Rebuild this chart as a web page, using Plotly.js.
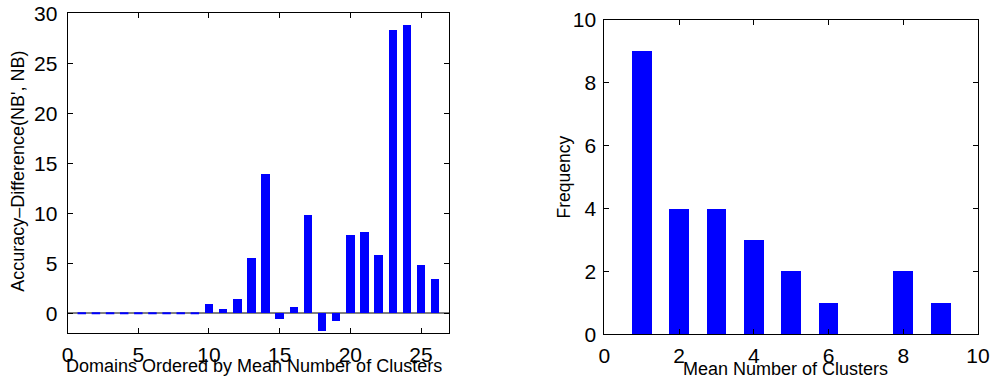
<!DOCTYPE html>
<html>
<head>
<meta charset="utf-8">
<script src="https://cdn.plot.ly/plotly-3.0.1.min.js"></script>
<style>html,body{margin:0;padding:0;background:#fff;}#chart{width:992px;height:383px;}</style>
</head>
<body>
<div id="chart"></div>
<script>
// Left panel: accuracy difference per domain (ordered by mean number of clusters)
const domainIndex = [1,2,3,4,5,6,7,8,9,10,11,12,13,14,15,16,17,18,19,20,21,22,23,24,25,26];
const accuracyDiff = [0,0,0,0,0,0,0,0,0,0.95,0.45,1.45,5.55,13.95,-0.6,0.65,9.85,-1.8,-0.8,7.85,8.15,5.85,28.35,28.85,4.85,3.45];
const leftXTicks = [0,5,10,15,20,25];
const leftYTicks = [0,5,10,15,20,25,30];

// Right panel: histogram of mean number of clusters
const clusterBins = [1,2,3,4,5,6,7,8,9];
const frequency = [9,4,4,3,2,1,0,2,1];
const rightXTicks = [0,2,4,6,8,10];
const rightYTicks = [0,2,4,6,8,10];

const leftBarWidth = 0.6;
const rightBarWidth = 0.53;
const blue = '#0000ff';
const FONT = 'Arial, "Liberation Sans", Helvetica, sans-serif';

// zero-height bars are drawn as flat blue segments (as MATLAB does)
const zx = [], zy = [];
domainIndex.forEach((d, i) => {
  if (accuracyDiff[i] === 0) {
    zx.push(d - leftBarWidth / 2, d + leftBarWidth / 2, null);
    zy.push(accuracyDiff[i], accuracyDiff[i], null);
  }
});

const traces = [
  {type: 'bar', x: domainIndex, y: accuracyDiff, width: leftBarWidth,
   marker: {color: blue, line: {width: 0}}, xaxis: 'x', yaxis: 'y', hoverinfo: 'x+y'},
  {type: 'scatter', mode: 'lines', x: zx, y: zy, line: {color: blue, width: 2},
   xaxis: 'x', yaxis: 'y', hoverinfo: 'skip'},
  {type: 'bar', x: clusterBins, y: frequency, width: rightBarWidth,
   marker: {color: blue, line: {width: 0}}, xaxis: 'x2', yaxis: 'y2', hoverinfo: 'x+y'}
];

const axisCommon = {
  showline: true, linecolor: '#000', linewidth: 1, mirror: 'ticks',
  ticks: 'inside', ticklen: 5, tickcolor: '#000', tickwidth: 1,
  showgrid: false, zeroline: false, fixedrange: true,
  tickfont: {family: FONT, size: 21, color: '#000'}, tickmode: 'array'
};

const layout = {
  width: 992, height: 383,
  margin: {l: 0, r: 0, t: 0, b: 0},
  paper_bgcolor: '#fff', plot_bgcolor: '#fff',
  showlegend: false, bargap: 0,
  font: {family: FONT, color: '#000'},
  xaxis: Object.assign({}, axisCommon, {domain: [0.0682, 0.4529], range: [0, 27], tickvals: leftXTicks, anchor: 'y', ticklabelstandoff: 2}),
  yaxis: Object.assign({}, axisCommon, {domain: [0.1297, 0.9652], range: [-2, 30], tickvals: leftYTicks, anchor: 'x',
    zeroline: true, zerolinecolor: '#808080', zerolinewidth: 2, ticklabelstandoff: 5}),
  xaxis2: Object.assign({}, axisCommon, {domain: [0.6092, 0.9859], range: [0, 10], tickvals: rightXTicks, anchor: 'y2', ticklabelstandoff: 2}),
  yaxis2: Object.assign({}, axisCommon, {domain: [0.1271, 0.9478], range: [0, 10], tickvals: rightYTicks, anchor: 'x2', ticklabelstandoff: 3}),
  annotations: [
    {text: 'Domains Ordered by Mean Number of Clusters', xref: 'x domain', yref: 'paper',
     x: 0.488, y: 1 - 366 / 383, xanchor: 'center', yanchor: 'middle', showarrow: false,
     font: {family: FONT, size: 18, color: '#000'}},
    {text: 'Mean Number of Clusters', xref: 'x2 domain', yref: 'paper',
     x: 0.486, y: 1 - 369 / 383, xanchor: 'center', yanchor: 'middle', showarrow: false,
     font: {family: FONT, size: 18, color: '#000'}},
    {text: "Accuracy\u2013Difference(NB', NB)", xref: 'paper', yref: 'paper',
     x: 18.3 / 992, y: 1 - 171.5 / 383, xanchor: 'center', yanchor: 'middle', textangle: -90, showarrow: false,
     font: {family: FONT, size: 18, color: '#000'}},
    {text: 'Frequency', xref: 'paper', yref: 'paper',
     x: 563 / 992, y: 1 - 177.5 / 383, xanchor: 'center', yanchor: 'middle', textangle: -90, showarrow: false,
     font: {family: FONT, size: 17.5, color: '#000'}}
  ]
};

Plotly.newPlot('chart', traces, layout, {displayModeBar: false, staticPlot: true});
</script>
</body>
</html>
